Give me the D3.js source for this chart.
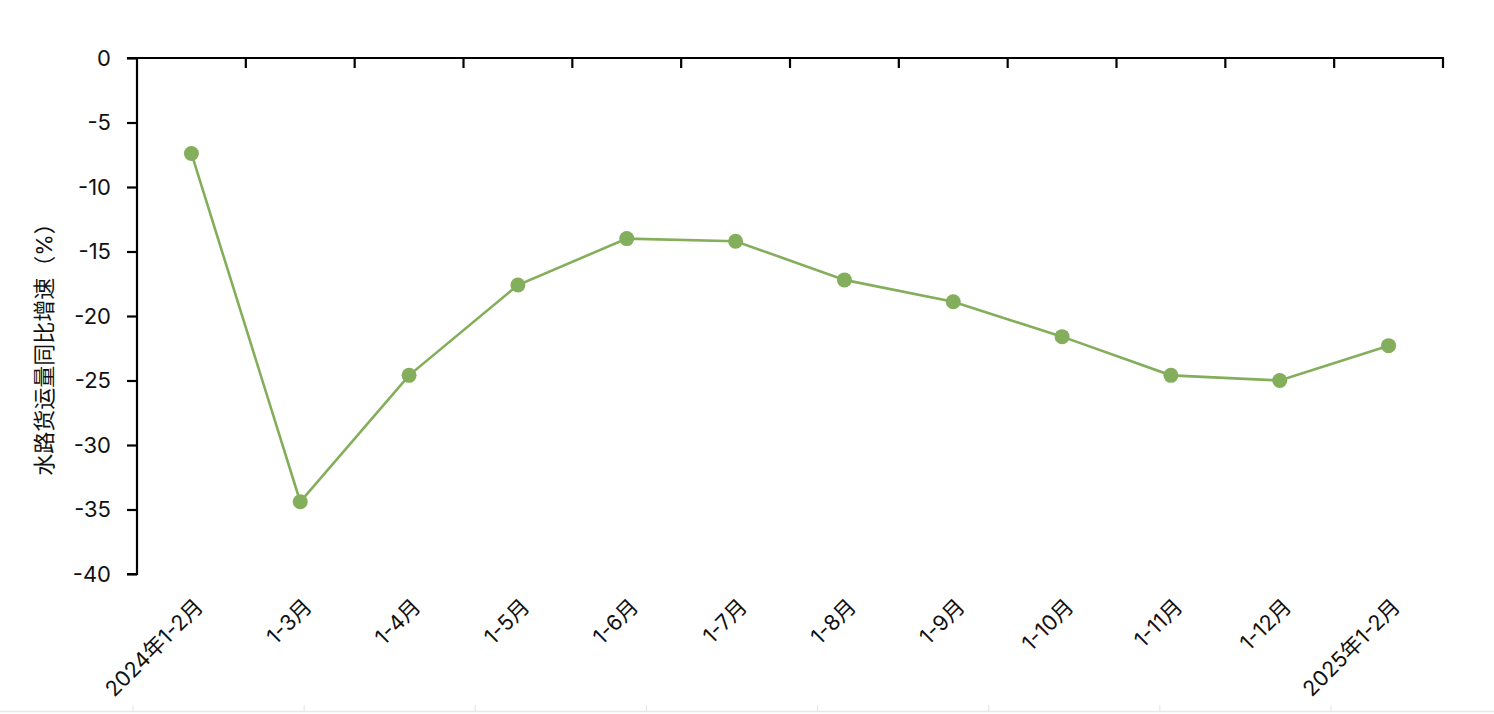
<!DOCTYPE html>
<html><head><meta charset="utf-8">
<script src="https://cdn.jsdelivr.net/npm/d3@7"></script>
<style>
html,body{margin:0;padding:0;background:#fff;}
text{font-family:"Inter","Noto Sans CJK SC",sans-serif;fill:#111;}
</style></head>
<body><svg id="c" width="1494" height="714"></svg>
<script>
const categories = ["2024年1-2月","1-3月","1-4月","1-5月","1-6月","1-7月","1-8月","1-9月","1-10月","1-11月","1-12月","2025年1-2月"];
const growth = [-7.4,-34.4,-24.6,-17.6,-14.0,-14.2,-17.2,-18.9,-21.6,-24.6,-25.0,-22.3];
const yTicks = [0,-5,-10,-15,-20,-25,-30,-35,-40];
const yLabel = "水路货运量同比增速（%）";

(function(){
const svg = d3.select("#c");
const L = 137, R = 1443, T = 58, B = 574;
const x = d3.scaleBand().domain(categories).range([L,R]).padding(0);
const y = d3.scaleLinear().domain([-40,0]).range([B,T]);
const green = "#83AE5B";

// faint bottom page strip
svg.append("line").attr("x1",0).attr("x2",1494).attr("y1",711.5).attr("y2",711.5).attr("stroke","#e8e8e8").attr("stroke-width",1.5);
const stripX = d3.scaleLinear().domain([0,7]).range([133,1331]);
d3.range(8).forEach(i=>{
  svg.append("line").attr("x1",stripX(i)).attr("x2",stripX(i)).attr("y1",705).attr("y2",711).attr("stroke","#e4e4e4").attr("stroke-width",1);
});

// y axis
const yAxis = svg.append("g").attr("transform",`translate(${L},0)`)
  .call(d3.axisLeft(y).tickValues(yTicks).tickSize(10).tickPadding(16).tickFormat(d=>String(d)));
yAxis.select(".domain").attr("stroke","#000").attr("stroke-width",2.2).attr("d",`M-10,${B}H0V${T}`);
yAxis.selectAll(".tick line").attr("stroke","#000").attr("stroke-width",2.2);
yAxis.selectAll(".tick text").style("font-size","22px").attr("fill","#111");

// x axis at top (ticks inward)
const edges = categories.map(c=>x(c)).concat([R]);
const xg = svg.append("g");
xg.append("line").attr("x1",L-10).attr("x2",R+1).attr("y1",T).attr("y2",T).attr("stroke","#000").attr("stroke-width",2.2);
edges.slice(1).forEach(e=>{
  xg.append("line").attr("x1",e).attr("x2",e).attr("y1",T).attr("y2",T+10).attr("stroke","#000").attr("stroke-width",2.2);
});

// x labels
svg.append("g").selectAll("text").data(categories).join("text")
  .attr("transform",d=>`translate(${x(d)+x.bandwidth()/2+13},${608}) rotate(-45)`)
  .attr("text-anchor","end")
  .style("font-size","21.5px")
  .text(d=>d);

// y label
svg.append("text").attr("transform","translate(52,344) rotate(-90)")
  .attr("text-anchor","middle").style("font-size","22px").text(yLabel);

// line
const line = d3.line().x((d,i)=>x(categories[i])+x.bandwidth()/2).y(d=>y(d));
svg.append("path").datum(growth).attr("d",line).attr("fill","none").attr("stroke",green).attr("stroke-width",2.6);
svg.append("g").selectAll("circle").data(growth).join("circle")
  .attr("cx",(d,i)=>x(categories[i])+x.bandwidth()/2).attr("cy",d=>y(d)).attr("r",7.5).attr("fill",green);
})();
</script></body></html>
